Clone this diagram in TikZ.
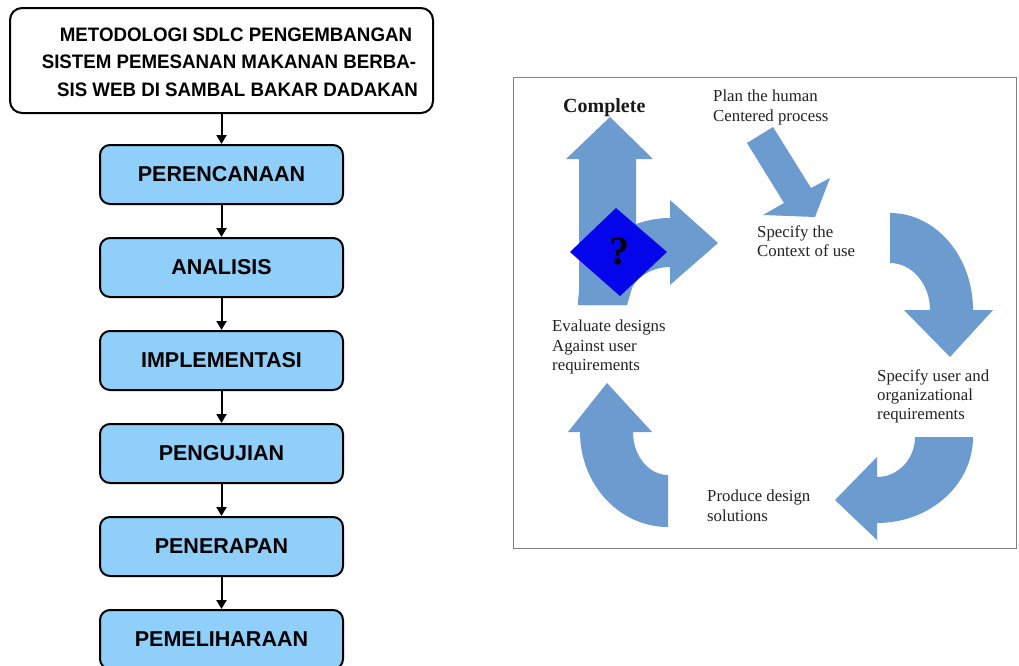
\documentclass[tikz,border=0pt]{standalone}
\usepackage{fontspec}
\setmainfont{Liberation Serif}
\newfontfamily\sansf{Liberation Sans}
\newfontfamily\titlef{Liberation Sans}[FakeStretch=0.96]
\usetikzlibrary{arrows.meta}
\definecolor{boxblue}{RGB}{143,207,250}
\definecolor{arrblue}{RGB}{108,155,208}
\definecolor{diamblue}{RGB}{5,5,235}
\definecolor{txtgray}{RGB}{35,35,35}
\begin{document}
\begin{tikzpicture}[x=1pt,y=-1pt,
  stepbox/.style={draw=black, line width=2pt, rounded corners=10pt, fill=boxblue,
    minimum width=243pt, minimum height=59pt, inner sep=0pt,
    font=\sansf\bfseries\fontsize{21.5}{24}\selectfont},
  flow/.style={line width=2pt, -{Triangle[length=9pt,width=10pt]}},
  ttl/.style={font=\titlef\bfseries\fontsize{19.5}{22}\selectfont, anchor=base, inner sep=0pt},
  lbl/.style={font=\fontsize{16.8}{19.4}\selectfont, text=txtgray, align=left, anchor=north west, inner sep=0pt},
  bigarrow/.style={fill=arrblue}
]
\useasboundingbox (0,0) rectangle (1019,665);
\fill[white] (0,0) rectangle (1019,665);

% ---------- left flow ----------
\node[draw=black, line width=2pt, rounded corners=12pt, fill=white,
      minimum width=423pt, minimum height=105pt, inner sep=0pt] (title) at (221.5,60.5) {};
\node[ttl] (t1) at (236,41) {METODOLOGI SDLC PENGEMBANGAN};
\node[ttl] (t2) at (229,68.5) {SISTEM PEMESANAN MAKANAN BERBA-};
\node[ttl] (t3) at (237.5,96) {SIS WEB DI SAMBAL BAKAR DADAKAN};

\node[stepbox] (p1) at (221.5,174.5) {PERENCANAAN};
\node[stepbox] (p2) at (221.5,267.5) {ANALISIS};
\node[stepbox] (p3) at (221.5,360.5) {IMPLEMENTASI};
\node[stepbox] (p4) at (221.5,453.5) {PENGUJIAN};
\node[stepbox] (p5) at (221.5,546.5) {PENERAPAN};
\node[stepbox] (p6) at (221.5,639.5) {PEMELIHARAAN};

\draw[flow] (title.south) -- (p1.north);
\draw[flow] (p1.south) -- (p2.north);
\draw[flow] (p2.south) -- (p3.north);
\draw[flow] (p3.south) -- (p4.north);
\draw[flow] (p4.south) -- (p5.north);
\draw[flow] (p5.south) -- (p6.north);

% ---------- right panel ----------
\node[draw=black!50, line width=1pt, minimum width=503pt, minimum height=471pt, inner sep=0pt] (frame) at (764.5,312.5) {};

% top-left curved arrow (to the right)
\fill[bigarrow] (578,305) arc[start angle=180,end angle=270,x radius=92,y radius=87]
  -- (670,200) -- (718,243) -- (670,285) -- (670,267)
  arc[start angle=270,end angle=180,x radius=43,y radius=38] -- cycle;
% up arrow (Complete)
\fill[bigarrow] (579,305) -- (579,159) -- (566,159) -- (610,117) -- (653,159) -- (636,159) -- (636,275) -- (627,305) -- cycle;
% plan arrow (diagonal)
\fill[bigarrow] (747,143) -- (773,127) -- (811,188) -- (830,178) -- (815,217) -- (763,215) -- (784,203) -- cycle;
% right curved arrow
\fill[bigarrow] (890,213) arc[start angle=-90,end angle=0,x radius=83,y radius=97]
  -- (993,310) -- (950,357) -- (904,310) -- (930,310)
  arc[start angle=0,end angle=-90,x radius=40,y radius=47] -- cycle;
% bottom-right curved arrow
\fill[bigarrow] (973,437) arc[start angle=0,end angle=90,x radius=96,y radius=86]
  -- (877,540) -- (835,500) -- (877,457) -- (877,477)
  arc[start angle=90,end angle=0,x radius=38,y radius=40] -- cycle;
% bottom-left curved arrow
\fill[bigarrow] (668,527) arc[start angle=90,end angle=180,x radius=88,y radius=95]
  -- (568,432) -- (607,383) -- (652,432) -- (633,432)
  arc[start angle=180,end angle=90,x radius=35,y radius=43] -- cycle;

% decision diamond
\fill[diamblue] (616,208) -- (667,252) -- (620,296) -- (570,252) -- cycle;
\node[font=\fontsize{40}{40}\selectfont\bfseries, text=black, inner sep=0pt] (qm) at (619,252) {?};

% labels
\node[font=\fontsize{20}{22}\selectfont\bfseries, text=black!90, anchor=base west, inner sep=0pt] (complete) at (563,112) {Complete};
\node[lbl] (plan) at (713,90) {Plan the human\\Centered process};
\node[lbl] (ctx) at (757,225) {Specify the\\Context of use};
\node[lbl] (eval) at (552,320) {Evaluate designs\\Against user\\requirements};
\node[lbl] (req) at (877,369) {Specify user and\\organizational\\requirements};
\node[lbl] (prod) at (707,490) {Produce design\\solutions};
\end{tikzpicture}
\end{document}
